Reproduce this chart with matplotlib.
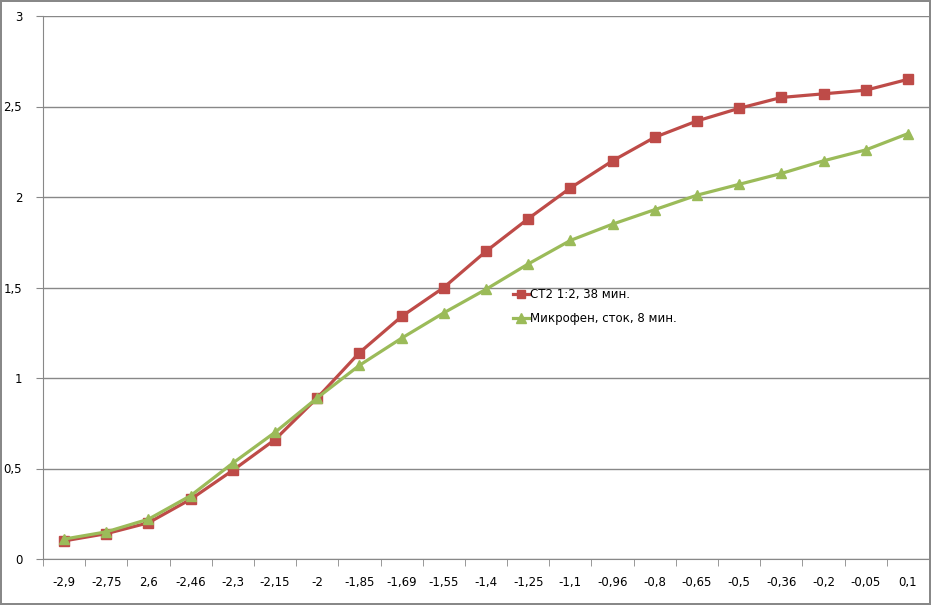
import matplotlib.pyplot as plt
import numpy as np

labels = ["-2,9", "-2,75", "2,6", "-2,46", "-2,3", "-2,15", "-2", "-1,85", "-1,69",
          "-1,55", "-1,4", "-1,25", "-1,1", "-0,96", "-0,8", "-0,65", "-0,5",
          "-0,36", "-0,2", "-0,05", "0,1"]
ct2 = [0.10, 0.14, 0.20, 0.33, 0.49, 0.66, 0.89, 1.14, 1.34, 1.50, 1.70,
       1.88, 2.05, 2.20, 2.33, 2.42, 2.49, 2.55, 2.57, 2.59, 2.65]
mikrofen = [0.11, 0.15, 0.22, 0.35, 0.53, 0.70, 0.89, 1.07, 1.22, 1.36, 1.49,
            1.63, 1.76, 1.85, 1.93, 2.01, 2.07, 2.13, 2.20, 2.26, 2.35]

fig = plt.figure(figsize=(9.31, 6.05), dpi=100)
fig.patch.set_edgecolor("#888888")
fig.patch.set_linewidth(1.5)
ax = fig.add_axes([43 / 931, 46 / 605, 886 / 931, 543 / 605])

x = np.arange(len(labels))
ax.plot(x, ct2, color="#BE4B48", lw=2.3, marker="s", ms=6.5, label="CT2 1:2, 38 мин.")
ax.plot(x, mikrofen, color="#9BBB59", lw=2.3, marker="^", ms=7.5, label="Микрофен, сток, 8 мин.")

ax.set_xlim(-0.5, len(labels) - 0.5)
ax.set_ylim(0, 3)
ax.set_yticks(np.arange(0, 3.01, 0.5))
ax.set_yticklabels(["0", "0,5", "1", "1,5", "2", "2,5", "3"])
ax.set_xticks(x)
ax.set_xticklabels(labels)
ax.set_xticks(np.arange(-0.5, len(labels), 1), minor=True)
ax.tick_params(axis="x", which="major", length=0, pad=12, labelsize=8.5)
ax.tick_params(axis="x", which="minor", length=5, color="#888888")
ax.tick_params(axis="y", length=5, color="#888888", labelsize=8.5, pad=10)
ax.grid(axis="y", color="#888888", lw=1)
ax.set_axisbelow(True)
for s in ["top", "right"]:
    ax.spines[s].set_visible(False)
for s in ["left", "bottom"]:
    ax.spines[s].set_color("#888888")

ax.legend(loc="upper left", bbox_to_anchor=(0.518, 0.519), frameon=False,
          fontsize=8.5, handlelength=1.4, labelspacing=0.95, handletextpad=0.1,
          markerscale=0.9)

fig.savefig("out.png", dpi=100, edgecolor=fig.get_edgecolor())
